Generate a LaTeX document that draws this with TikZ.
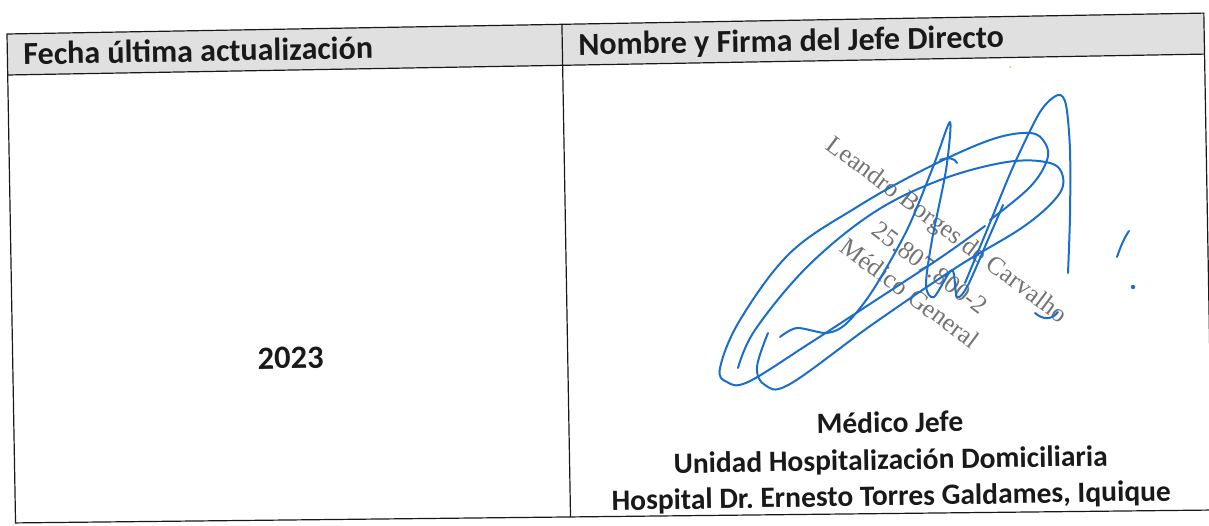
\documentclass[tikz,border=0pt]{standalone}
\usepackage{fontspec}
\setmainfont{Carlito}
\newfontfamily\sellofont{Liberation Serif}
\frenchspacing
\definecolor{firma}{RGB}{25,110,205}
\definecolor{sello}{RGB}{115,115,115}
\definecolor{celda}{RGB}{224,224,224}
\definecolor{tinta}{RGB}{25,25,25}
\tikzset{
  celdatxt/.style={font=\bfseries\fontsize{32}{38}\selectfont, text=tinta, inner sep=0pt},
  piedtxt/.style={font=\bfseries\fontsize{29.5}{36}\selectfont, text=tinta, inner sep=0pt, anchor=base},
  sellotxt/.style={font=\sellofont\fontsize{25.5}{30}\selectfont, text=sello, inner sep=0pt, rotate=-36.8},
  borde/.style={line width=1.2pt, draw=tinta},
  trazo/.style={firma, line width=2pt, line cap=round, line join=round},
}

\begin{document}
\begin{tikzpicture}[x=1pt,y=-1pt]
			\useasboundingbox (0,0) rectangle (1209,526);
			%%%%% START %%%%%
			\begin{scope}[shift={(7,34)}, rotate=1.0, transform shape]
			\fill[celda] (0,0) rectangle (1197,41);
			\draw[borde] (0,489) -- (0,0) -- (1197,0) -- (1197,497) -- cycle;
			\draw[borde] (0,41) -- (1197,41);
			\draw[borde] (555,0) -- (555,493);
			
			\node[celdatxt, anchor=base west] (hdrfecha) at (16,31) {Fecha última actualización};
			\node[celdatxt, anchor=base west] (hdrnombre) at (571,31) {Nombre y Firma del Jefe Directo};
			\node[celdatxt, font=\bfseries\fontsize{32.5}{38}\selectfont] (anio) at (278,329) {2023};
			
			\node[piedtxt] (cargo) at (876,414) {Médico Jefe};
			\node[piedtxt] (unidad) at (876,451) {Unidad Hospitalización Domiciliaria};
			\node[piedtxt] (hospital) at (876,487) {Hospital Dr. Ernesto Torres Galdames, Iquique};
			\end{scope}
			
			%%%%% SELLO %%%%%
			\node[sellotxt] (sellonombre) at (946,231) {Leandro Borges de Carvalho};
			\node[sellotxt] (sellorut) at (930,268) {25.807.800-2};
			\node[sellotxt] (sellocargo) at (910,293) {Médico General};
			
			%%%%% FIRMA %%%%%
			\draw[trazo] plot[smooth, tension=0.6] coordinates {(990,220) (1030,187) (1047,160) (1045,143) (1030,133) (990,140) (923,170) (857,207) (790,253) (740,320) (720,368) (727,382) (748,382) (807,345) (873,302) (940,258) (985,226)};
			\draw[trazo] plot[smooth, tension=0.6] coordinates {(768,333) (757,367) (765,385) (790,384) (873,324) (957,267) (1023,227) (1057,197) (1063,177) (1050,163) (1007,162) (940,180) (873,213) (807,267) (755,330) (738,368)};
			\draw[trazo] plot[smooth, tension=0.5] coordinates {(780,337) (797,328) (827,333) (847,323) (873,290) (907,230) (933,167) (950,122) (946,170) (932,240) (926,285) (934,297) (952,270) (957,297) (968,285) (990,235) (1003,205)};
			\draw[trazo] plot[smooth, tension=0.5] coordinates {(965,283) (987,230) (1013,167) (1040,112) (1058,95) (1066,105) (1070,150) (1070,215) (1068,273)};
			\draw[trazo] (940,160) .. controls (948,157) and (955,158) .. (957,163);
			\draw[trazo] (1035,313) .. controls (1043,320) and (1052,320) .. (1058,312);
			\draw[trazo] (1129,231) .. controls (1124,238) and (1120,248) .. (1117,257);
			\fill[firma] (1133,287) circle (2.2pt);
			\fill[orange!70] (1010,67) circle (1pt);
			%%%%% END %%%%%
\end{tikzpicture}
\end{document}
